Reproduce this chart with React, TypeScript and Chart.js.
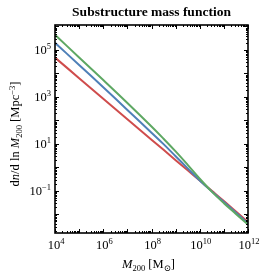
import React, { useEffect, useRef } from "react";
import { Chart, registerables } from "chart.js";

Chart.register(...registerables);

// Halo mass M200 [Msun]
const massValues = [1e4, 1e5, 1e6, 1e7, 1e8, 3.16e8, 1e9, 3.16e9, 1e10, 3.16e10, 1e11, 3.16e11, 1e12];
// dn/dlnM200 [Mpc^-3]
const seriesGreen = [4.4e5, 4.8e4, 5.2e3, 550, 55, 16.6, 4.8, 1.29, 0.33, 0.093, 0.030, 0.0105, 0.0037];
const seriesBlue = [2.0e5, 2.3e4, 2.6e3, 280, 30, 9.8, 3.0, 0.91, 0.28, 0.095, 0.034, 0.0117, 0.0042];
const seriesRed = [4.7e4, 6.3e3, 830, 112, 15.1, 5.6, 2.04, 0.75, 0.275, 0.101, 0.037, 0.0132, 0.0047];

const xTickExponents = [4, 6, 8, 10, 12];
const yTickExponents = [-1, 1, 3, 5];

const X_MIN = 1e4;
const X_MAX = 1e12;
const Y_MIN = 1.62e-3;
const Y_MAX = 1.15e6;

const SERIF = '"Liberation Serif", "DejaVu Serif", serif';
const BASE_PX = 12.5;
const SMALL_PX = 8.5;

type Seg = { t: string; s: "r" | "i" | "sub" | "sup" };

function segFont(s: Seg["s"]) {
  if (s === "i") return `italic ${BASE_PX}px ${SERIF}`;
  if (s === "sub" || s === "sup") return `${SMALL_PX}px ${SERIF}`;
  return `${BASE_PX}px ${SERIF}`;
}

function richWidth(ctx: CanvasRenderingContext2D, segs: Seg[]) {
  let w = 0;
  for (const sg of segs) {
    ctx.font = segFont(sg.s);
    w += ctx.measureText(sg.t).width;
  }
  return w;
}

function drawRich(ctx: CanvasRenderingContext2D, segs: Seg[], x: number, y: number) {
  let cx = x;
  ctx.textBaseline = "alphabetic";
  ctx.textAlign = "left";
  for (const sg of segs) {
    ctx.font = segFont(sg.s);
    let dy = 0;
    if (sg.s === "sup") dy = -4.5;
    if (sg.s === "sub") dy = 2.5;
    ctx.fillText(sg.t, cx, y + dy);
    cx += ctx.measureText(sg.t).width;
  }
}

function powSegs(e: number): Seg[] {
  const txt = e < 0 ? "\u2212" + Math.abs(e) : String(e);
  return [
    { t: "10", s: "r" },
    { t: txt, s: "sup" },
  ];
}

const decorPlugin = {
  id: "decor",
  afterDatasetsDraw(chart: any) {
    const ctx: CanvasRenderingContext2D = chart.ctx;
    const { left, right, top, bottom } = chart.chartArea;
    const xs = chart.scales.x;
    const ys = chart.scales.y;
    ctx.save();
    ctx.fillStyle = "#000";
    ctx.strokeStyle = "#000";

    // ticks (inward, all four sides)
    ctx.lineWidth = 1;
    ctx.beginPath();
    for (let e = 4; e <= 12; e++) {
      for (let k = 1; k <= 9; k++) {
        const v = k * Math.pow(10, e);
        if (v < X_MIN || v > X_MAX) continue;
        const px = Math.round(xs.getPixelForValue(v)) + 0.5;
        const len = k === 1 ? 4 : 2;
        ctx.moveTo(px, bottom);
        ctx.lineTo(px, bottom - len);
        ctx.moveTo(px, top);
        ctx.lineTo(px, top + len);
      }
    }
    for (let e = -3; e <= 6; e++) {
      for (let k = 1; k <= 9; k++) {
        const v = k * Math.pow(10, e);
        if (v < Y_MIN || v > Y_MAX) continue;
        const py = Math.round(ys.getPixelForValue(v)) + 0.5;
        const len = k === 1 ? 4 : 2;
        ctx.moveTo(left, py);
        ctx.lineTo(left + len, py);
        ctx.moveTo(right, py);
        ctx.lineTo(right - len, py);
      }
    }
    ctx.stroke();

    // frame
    ctx.lineWidth = 1.6;
    ctx.strokeRect(left, top, right - left, bottom - top);

    // x tick labels
    for (const e of xTickExponents) {
      const px = xs.getPixelForValue(Math.pow(10, e));
      const segs = powSegs(e);
      ctx.font = segFont("r");
      const wBase = ctx.measureText("10").width;
      const wAll = richWidth(ctx, segs);
      drawRich(ctx, segs, px - wBase / 2 - (wAll - wBase) / 2 + 1, bottom + 15.5);
    }
    // y tick labels
    for (const e of yTickExponents) {
      const py = ys.getPixelForValue(Math.pow(10, e));
      const segs = powSegs(e);
      const wAll = richWidth(ctx, segs);
      drawRich(ctx, segs, left - 4 - wAll, py + 4);
    }

    // x axis title
    const xt: Seg[] = [
      { t: "M", s: "i" },
      { t: "200", s: "sub" },
      { t: " [M", s: "r" },
      { t: "\u2299", s: "sub" },
      { t: "]", s: "r" },
    ];
    const xw = richWidth(ctx, xt);
    drawRich(ctx, xt, (left + right) / 2 - xw / 2 - 3, bottom + 35);

    // y axis title
    const yt: Seg[] = [
      { t: "d", s: "r" },
      { t: "n", s: "i" },
      { t: "/d ln ", s: "r" },
      { t: "M", s: "i" },
      { t: "200", s: "sub" },
      { t: " [Mpc", s: "r" },
      { t: "\u22123", s: "sup" },
      { t: "]", s: "r" },
    ];
    const yw = richWidth(ctx, yt);
    ctx.save();
    ctx.translate(19, (top + bottom) / 2 + 5);
    ctx.rotate(-Math.PI / 2);
    drawRich(ctx, yt, -yw / 2, 0);
    ctx.restore();

    // title
    ctx.font = `bold 13.5px ${SERIF}`;
    ctx.textAlign = "center";
    ctx.textBaseline = "alphabetic";
    ctx.fillText("Substructure mass function", (left + right) / 2, 16);

    ctx.restore();
  },
};

function toPoints(vals: number[]) {
  return massValues.map((m, i) => ({ x: m, y: vals[i] }));
}

export default function App() {
  const canvasRef = useRef<HTMLCanvasElement | null>(null);

  useEffect(() => {
    if (!canvasRef.current) return;
    const chart = new Chart(canvasRef.current, {
      type: "line",
      data: {
        datasets: [
          {
            label: "green",
            data: toPoints(seriesGreen),
            borderColor: "#5ea863",
            borderWidth: 2,
            pointRadius: 0,
            tension: 0.4,
          },
          {
            label: "blue",
            data: toPoints(seriesBlue),
            borderColor: "#4f80b8",
            borderWidth: 2,
            pointRadius: 0,
            tension: 0.4,
          },
          {
            label: "red",
            data: toPoints(seriesRed),
            borderColor: "#cf4c4c",
            borderWidth: 2,
            pointRadius: 0,
            tension: 0.4,
          },
        ],
      },
      options: {
        animation: false,
        responsive: true,
        maintainAspectRatio: false,
        devicePixelRatio: 1,
        layout: { padding: { left: 55, top: 25, right: 18, bottom: 43 } },
        plugins: {
          legend: { display: false },
          tooltip: { enabled: false },
          title: { display: false },
        },
        scales: {
          x: { type: "logarithmic", min: X_MIN, max: X_MAX, display: false },
          y: { type: "logarithmic", min: Y_MIN, max: Y_MAX, display: false },
        },
      } as any,
      plugins: [decorPlugin],
    });
    return () => chart.destroy();
  }, []);

  return (
    <div style={{ position: "fixed", left: 0, top: 0, width: 266, height: 276, background: "#fff" }}>
      <canvas ref={canvasRef} />
    </div>
  );
}
